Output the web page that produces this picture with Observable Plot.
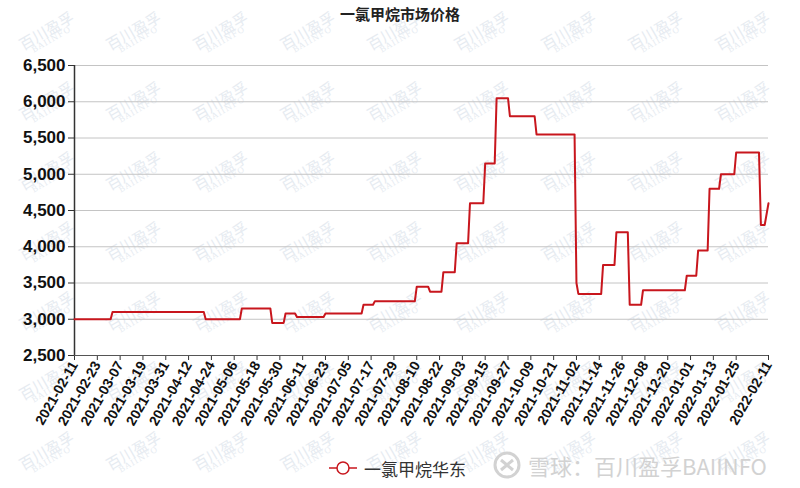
<!DOCTYPE html>
<html>
<head>
<meta charset="utf-8">
<script src="https://cdn.jsdelivr.net/npm/d3@7"></script>
<script src="https://cdn.jsdelivr.net/npm/@observablehq/plot@0.6"></script>
<style>
  html, body { margin: 0; padding: 0; background: #fff; }
  #wrap { position: relative; width: 800px; height: 488px; overflow: hidden; font-family: "Liberation Sans", Arial, sans-serif; }
  #title { position: absolute; left: 0; top: 3px; width: 800px; text-align: center; font-family: "Noto Sans CJK SC", sans-serif; font-weight: bold; font-size: 15px; color: #222; }
  #chart { position: absolute; left: 0; top: 0; }
  #legend { position: absolute; left: 328px; top: 454px; height: 28px; display: flex; align-items: center; font-family: "Noto Sans CJK SC", sans-serif; font-size: 17px; color: #333; }
  #xq { position: absolute; left: 492px; top: 449px; display: flex; align-items: center; font-family: "Noto Sans CJK SC", sans-serif; font-size: 22px; color: #d2d2d2; }
  .wm { position: absolute; color: #e6ebf1; font-family: "Noto Sans CJK SC", sans-serif; transform: rotate(-30deg); text-align: center; line-height: 1; }
  .wm span { display: block; font-family: "DejaVu Serif", serif; font-size: 8px; letter-spacing: 1px; }
</style>
</head>
<body>
<div id="wrap">
  <div id="wms"></div>
  <div id="chart"></div>
  <div id="title"></div>
  <div id="legend"></div>
  <div id="xq"></div>
</div>
<script>
const chartTitle = "一氯甲烷市场价格";
const seriesName = "一氯甲烷华东";
const watermarkText = "雪球：百川盈孚BAIINFO";

// change points (date, price)
const dates = [
  "2021-02-11","2021-03-02","2021-03-03","2021-04-20","2021-04-21","2021-05-09","2021-05-10",
  "2021-05-25","2021-05-26","2021-06-01","2021-06-02","2021-06-07","2021-06-08","2021-06-22",
  "2021-06-23","2021-07-12","2021-07-13","2021-07-18","2021-07-19","2021-08-09","2021-08-10",
  "2021-08-16","2021-08-17","2021-08-23","2021-08-24","2021-08-30","2021-08-31","2021-09-06",
  "2021-09-07","2021-09-14","2021-09-15","2021-09-20","2021-09-21","2021-09-27","2021-09-28",
  "2021-10-11","2021-10-12","2021-11-01","2021-11-02","2021-11-03","2021-11-15","2021-11-16",
  "2021-11-22","2021-11-23","2021-11-29","2021-11-30","2021-12-06","2021-12-07","2021-12-29",
  "2021-12-30","2022-01-04","2022-01-05","2022-01-10","2022-01-11","2022-01-16","2022-01-17",
  "2022-01-24","2022-01-25","2022-02-06","2022-02-07","2022-02-09","2022-02-11"
];
const prices = [
  3000,3000,3100,3100,3000,3000,3150,
  3150,2950,2950,3080,3080,3030,3030,
  3080,3080,3200,3200,3250,3250,3450,
  3450,3380,3380,3650,3650,4050,4050,
  4600,4600,5150,5150,6050,6050,5800,
  5800,5550,5550,3500,3350,3350,3750,
  3750,4200,4200,3200,3200,3400,3400,
  3600,3600,3950,3950,4800,4800,5000,
  5000,5300,5300,4300,4300,4600
];
const xTickLabels = [
  "2021-02-11","2021-02-23","2021-03-07","2021-03-19","2021-03-31","2021-04-12","2021-04-24",
  "2021-05-06","2021-05-18","2021-05-30","2021-06-11","2021-06-23","2021-07-05","2021-07-17",
  "2021-07-29","2021-08-10","2021-08-22","2021-09-03","2021-09-15","2021-09-27","2021-10-09",
  "2021-10-21","2021-11-02","2021-11-14","2021-11-26","2021-12-08","2021-12-20","2022-01-01",
  "2022-01-13","2022-01-25","2022-02-11"
];
const yTicks = [2500, 3000, 3500, 4000, 4500, 5000, 5500, 6000, 6500];
const lineColor = "#c8161d";

const parse = d3.utcParse("%Y-%m-%d");
const data = dates.map((d, i) => ({date: parse(d), price: prices[i]}));
const xTicks = xTickLabels.map(parse);
const xDomain = [xTicks[0], xTicks[xTicks.length - 1]];

const plot = Plot.plot({
  width: 800,
  height: 440,
  marginTop: 65,
  marginBottom: 85,
  marginLeft: 74,
  marginRight: 32,
  style: {fontFamily: "'Liberation Sans', Arial, sans-serif", background: "transparent", color: "#111"},
  x: {type: "utc", domain: xDomain},
  y: {domain: [2500, 6500]},
  marks: [
    Plot.gridY(yTicks, {stroke: "#c4c4c4", strokeOpacity: 1}),
    Plot.axisY(yTicks, {tickFormat: d3.format(","), tickSize: 6, tickPadding: 3, fontSize: 17, fontWeight: "bold", label: null, stroke: "#333"}),
    Plot.axisX(xTicks, {tickFormat: d3.utcFormat("%Y-%m-%d"), tickRotate: -60, tickSize: 5, tickPadding: 2, fontSize: 14, fontWeight: "bold", label: null, stroke: "#333"}),
    Plot.ruleX([xDomain[0]], {stroke: "#333", strokeWidth: 1.5}),
    Plot.ruleY([2500], {stroke: "#555"}),
    Plot.line(data, {x: "date", y: "price", stroke: lineColor, strokeWidth: 2})
  ]
});
document.getElementById("chart").appendChild(plot);
document.getElementById("title").textContent = chartTitle;

// legend
const lg = document.getElementById("legend");
lg.innerHTML = `<svg width="30" height="20" style="margin-right:6px"><line x1="1" y1="10" x2="29" y2="10" stroke="${lineColor}" stroke-width="1.5"/><circle cx="15" cy="10" r="6" fill="#fff" stroke="${lineColor}" stroke-width="1.5"/></svg><span>${seriesName}</span>`;

// bottom-right watermark
const xq = document.getElementById("xq");
xq.innerHTML = `<svg width="30" height="30" style="margin-right:6px"><circle cx="15" cy="15" r="12" fill="none" stroke="#d2d2d2" stroke-width="3"/><path d="M9 10 L21 20 M21 10 L9 20" stroke="#d2d2d2" stroke-width="3"/></svg><span>${watermarkText}</span>`;

// faint tiled watermarks
const wms = document.getElementById("wms");
for (let r = 0; r < 7; r++) {
  for (let c = 0; c < 9; c++) {
    const d = document.createElement("div");
    d.className = "wm";
    d.style.left = (18 + c * 87) + "px";
    d.style.top = (22 + r * 70) + "px";
    d.innerHTML = `<div style="font-size:15px">百川盈孚</div><span>BAIINFO</span>`;
    wms.appendChild(d);
  }
}
</script>
</body>
</html>
